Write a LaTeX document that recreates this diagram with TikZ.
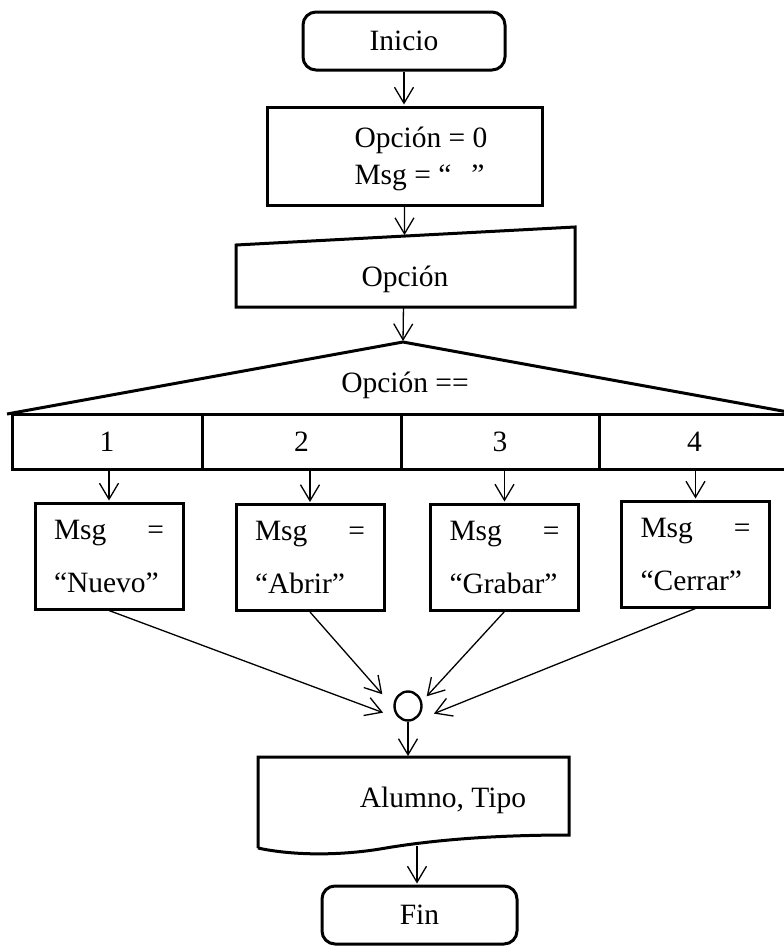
\documentclass[tikz,border=0pt]{standalone}
\usepackage{fontspec}
\setmainfont{Liberation Serif}
\usetikzlibrary{arrows.meta, calc, shapes.geometric}

\begin{document}
\begin{tikzpicture}[x=1pt, y=-1pt, font=\fontsize{29.5pt}{37pt}\selectfont,
  box/.style={draw, line width=3pt, inner sep=0pt},
  term/.style={box, rounded corners=13pt, minimum height=58pt},
  msgbox/.style={box, minimum width=148pt, minimum height=106pt,
    text width=110pt, align=left, font=\fontsize{29.5pt}{53pt}\selectfont},
  cell/.style={box, minimum height=55pt},
  arr/.style={line width=1.3pt, shorten >=1pt,
    -{Straight Barb[length=16pt, width=19pt, line width=1.3pt]}}]
  \useasboundingbox (0,0) rectangle (784,946);

  % inicio y valores iniciales
  \node[term, minimum width=202pt] (inicio) at (404,41) {Inicio};
  \node[box, minimum width=275pt, minimum height=98pt] (ini) at (404.5,156) {};
  \node[align=left] (initxt) at (421,159) {Opción = 0\\Msg = “\hspace{20pt}”};

  % entrada manual: Opción
  \coordinate (inA) at (236,307);
  \coordinate (inB) at (236,245);
  \coordinate (inC) at (575,227);
  \coordinate (inD) at (575,307);
  \draw[line width=3pt] (inA) -- (inB) -- (inC) -- (inD) -- cycle;
  \node (inp) at (405,279) {Opción};
  \coordinate (inTop) at ($(inB)!0.497!(inC)$);
  \coordinate (inBot) at ($(inA)!0.494!(inD)$);

  % selector multiple
  \coordinate (apex) at (403,342);
  \coordinate (baseL) at (7,414);
  \coordinate (baseR) at (799,414);
  \draw[line width=3pt] (baseL) -- (apex) -- (baseR);
  \node (sel) at (405,385) {Opción ==};

  \node[cell, minimum width=190pt] (c1) at (107,441.5) {1};
  \node[cell, minimum width=199pt] (c2) at (301.5,441.5) {2};
  \node[cell, minimum width=198pt] (c3) at (500,441.5) {3};
  \node[cell, minimum width=191pt] (c4) at (694.5,441.5) {4};

  % casos
  \node[msgbox] (m1) at (109,556) {Msg\hfill=\\“Nuevo”};
  \node[msgbox] (m2) at (310,557.5) {Msg\hfill=\\“Abrir”};
  \node[msgbox] (m3) at (504.5,557) {Msg\hfill=\\“Grabar”};
  \node[msgbox] (m4) at (695.5,554) {Msg\hfill=\\“Cerrar”};

  % conector
  \node[ellipse, draw, line width=2.4pt, minimum width=27pt, minimum height=29pt,
    inner sep=0pt] (join) at (408,706) {};
  \coordinate (in1) at (384,713);
  \coordinate (in2) at (383,695);
  \coordinate (in3) at (426,697);
  \coordinate (in4) at (433,714);

  % salida: documento
  \coordinate (dTL) at (258,757);
  \coordinate (dTR) at (569,757);
  \coordinate (dBR) at (569,835);
  \coordinate (dBL) at (258,848);
  \draw[line width=3pt] (dBL) -- (dTL) -- (dTR) -- (dBR)
    .. controls (480,835) and (420,842) .. (380,849)
    .. controls (330,857) and (285,854) .. (dBL);
  \node (out) at (443,800) {Alumno, Tipo};
  \coordinate (dOut) at (417,846);

  \node[term, minimum width=195pt] (fin) at (419.5,915) {Fin};

  % flechas
  \draw[arr] (inicio.south) -- (inicio.south |- ini.north);
  \draw[arr] (ini.south) -- (inTop);
  \draw[arr] (inBot) -- (apex);
  \foreach \i in {1,...,4}
    \draw[arr] (c\i.south -| m\i.north) -- (m\i.north);
  \foreach \i in {1,...,4}
    \draw[arr] (m\i.south) -- (in\i);
  \draw[arr] (join.south) -- (join.south |- dTL);
  \draw[arr] (dOut) -- (dOut |- fin.north);
\end{tikzpicture}
\end{document}
